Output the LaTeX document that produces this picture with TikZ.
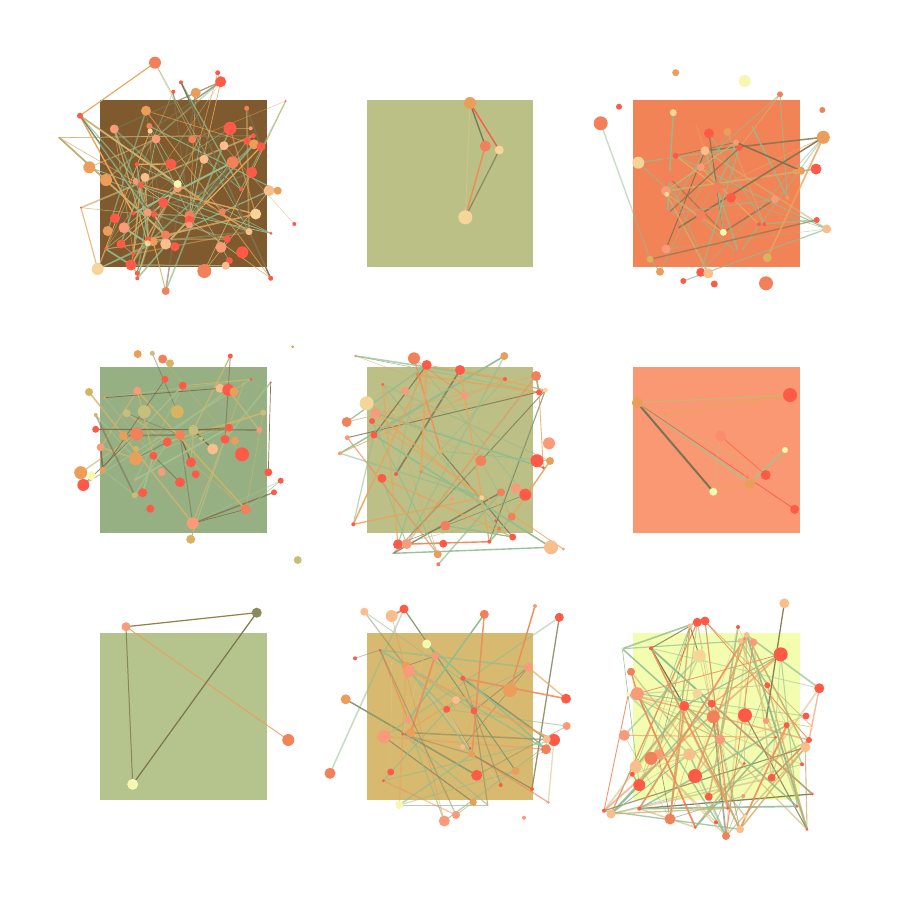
\documentclass[tikz,border=0pt]{standalone}
\pgfdeclarelayer{bg}
\pgfdeclarelayer{edges}
\pgfsetlayers{bg,edges,main}
% node colours
\definecolor{cR}{HTML}{FF5A48}
\definecolor{cO}{HTML}{F2805A}
\definecolor{cS}{HTML}{F99A78}
\definecolor{cA}{HTML}{EB9E5A}
\definecolor{cL}{HTML}{F8BE8C}
\definecolor{cC}{HTML}{F5D598}
\definecolor{cY}{HTML}{F5F8B0}
\definecolor{cG}{HTML}{D8B460}
\definecolor{cT}{HTML}{C8BE7C}
\definecolor{cK}{HTML}{8A8A60}
% base edge colours
\definecolor{xGr}{HTML}{92BC8E}
\definecolor{xTn}{HTML}{CDB473}
\definecolor{xAm}{HTML}{E8A55E}
\definecolor{xDk}{HTML}{7C7450}
\definecolor{xOr}{HTML}{EE8C5A}
\definecolor{xLg}{HTML}{A8C08E}
\definecolor{xLt}{HTML}{D9C48A}
\definecolor{xBr}{HTML}{7E6A45}
\definecolor{xGd}{HTML}{D8B460}
\definecolor{xOl}{HTML}{8A8A60}
\newcommand\mkpal[9]{%
  \colorlet{#1e1}{#2}\colorlet{#1e2}{#3}\colorlet{#1e3}{#4}%
  \colorlet{#1e4}{#5}\colorlet{#1e5}{#6}\colorlet{#1e6}{#7}%
  \colorlet{#1e7}{#8}\colorlet{#1e8}{#9}}
\mkpal{pA}{xGr}{xGr}{xGr}{xTn}{xTn}{xAm}{xAm}{xDk}
\mkpal{pC}{xGr}{xGr}{xGr}{xGr}{xGr}{xDk}{xAm}{xTn}
\mkpal{pD}{xBr}{xBr}{xBr}{xTn}{xTn}{xLg}{xLg}{xGd}
\mkpal{pE}{xGr}{xGr}{xGr}{xDk}{xDk}{xAm}{xAm}{xOr}
\mkpal{pH}{xGr}{xGr}{xGr}{xOl}{xOl}{xAm}{xOr}{xLt}
\mkpal{pI}{xGr}{xGr}{xGr}{xTn}{xTn}{xLt}{xOr}{xDk}
% panel colours
\definecolor{b1}{HTML}{7F5A2E}
\definecolor{b2}{HTML}{BBC186}
\definecolor{b3}{HTML}{F28356}
\definecolor{b4}{HTML}{96B083}
\definecolor{b5}{HTML}{BCBF86}
\definecolor{b6}{HTML}{FA9873}
\definecolor{b7}{HTML}{B5C38C}
\definecolor{b8}{HTML}{D7B970}
\definecolor{b9}{HTML}{F3FDB0}
\tikzset{
  dot/.style={circle, inner sep=0pt, outer sep=0pt, draw=none, minimum size=#1*2pt},
  panel/.style={fill=#1, draw=none},
  link/.style={line width=#1pt, line cap=round}
}
\newcommand\mkpanel[4]{%
  \foreach \x/\y/\rr/\cl [count=\i] in {#2} {%
    \node[dot=\rr, fill=\cl] (#1n\i) at (\x,\y) {};
    \xdef\nN{\i}}
  \begin{pgfonlayer}{edges}
  \pgfmathsetseed{#3}
  \foreach \k in {1,...,#4} {%
    \pgfmathrandominteger{\ea}{1}{\nN}
    \pgfmathrandominteger{\eb}{1}{\nN}
    \pgfmathrandominteger{\ec}{1}{8}
    \pgfmathrandominteger{\ew}{5}{17}
    \pgfmathrandominteger{\eo}{5}{10}
    \pgfmathsetmacro\eop{\eo/10}
    \pgfmathsetmacro\ewd{\ew/10}
    \draw[draw=#1e\ec, line width=\ewd pt, draw opacity=\eop, line cap=round]
      (#1n\ea.center) -- (#1n\eb.center);
  }
  \end{pgfonlayer}
}
\begin{document}
\begin{tikzpicture}[x=1pt, y=-1pt]
\useasboundingbox (0,0) rectangle (900,900);
\begin{pgfonlayer}{bg}
\fill[white] (0,0) rectangle (900,900);
\path[panel=b1] (100,100) rectangle (266.7,266.7);
\path[panel=b2] (366.7,100) rectangle (533.3,266.7);
\path[panel=b3] (633.3,100) rectangle (800,266.7);
\path[panel=b4] (100,366.7) rectangle (266.7,533.3);
\path[panel=b5] (366.7,366.7) rectangle (533.3,533.3);
\path[panel=b6] (633.3,366.7) rectangle (800,533.3);
\path[panel=b7] (100,633.3) rectangle (266.7,800);
\path[panel=b8] (366.7,633.3) rectangle (533.3,800);
\path[panel=b9] (633.3,633.3) rectangle (800,800);
\end{pgfonlayer}

% ---------- panel 1 ----------
\mkpanel{pA}{155/62.7/6/cO, 217.7/72.7/2.5/cR, 220.7/81.7/5.5/cR, 181/82.3/2/cR, 195.7/92.7/5/cA, 173.3/91.7/2/cR, 80/115.7/3/cR, 146/110.7/5/cA, 246.7/108.3/2.5/cO, 285.7/101/1/cR, 114.3/129/4.5/cS, 149.3/126/3/cO, 150/131/2.5/cC, 230/128.3/6.5/cR, 250.7/128.3/2/cS, 59.3/137.7/1/cA, 156/139/4.5/cS, 192.3/139.3/4/cO, 200.7/135.7/1.5/cR, 253.3/135.7/2.5/cR, 247.3/141/4/cR, 254/144.3/5/cA, 261/146.7/4.5/cR, 224/145.7/4.5/cL, 89.3/167.3/6/cA, 204/159.3/4.5/cL, 232.7/162.3/6/cO, 171/164/5.5/cR, 251.7/172.3/5.5/cR, 136.7/164.3/2/cR, 106/180/6/cA, 145/177.3/4.5/cL, 135.7/181/3/cS, 140.7/185/3/cR, 177.7/188.3/4/cS, 177.7/184/4/cY, 269/190.7/5.5/cL, 277.7/190.7/4/cA, 241/189.3/2/cR, 163.3/202.7/5/cR, 222.3/211.7/3.5/cO, 147.7/212.3/4/cS, 154.3/214.3/3/cR, 133.3/213.3/2/cR, 189.3/215.7/5/cO, 189.3/220/4.5/cR, 189.3/225/3.5/cS, 255.7/214/5.5/cC, 115/218.3/5/cR, 124/227.7/5.5/cS, 107.7/231/5/cA, 294.3/224/2/cR, 271/233.3/1.5/cR, 249/231.7/3.5/cL, 165.7/235/4.5/cO, 153.3/241.7/4.5/cA, 148.3/239.3/3/cR, 147.7/243.3/3/cC, 121/244/4.5/cR, 165.7/244/5.5/cL, 175/246.7/4.5/cR, 227.3/239/3.5/cR, 221/247.3/5.5/cS, 242.3/252.3/6/cR, 229.3/260.7/3.5/cR, 225.7/265.7/4/cL, 133.3/254/2/cR, 105.7/249/1.5/cR, 81/207.7/1/cR, 97.7/269/6/cC, 131/265/5.5/cR, 137.3/273.3/2.5/cR, 137.3/278.3/2/cR, 204.3/271/7/cO, 270.7/278.3/2.5/cR, 165.7/291/4/cO}{11}{115}

% ---------- panel 2 ----------
\node[dot=6, fill=cA] (q1) at (470,103) {};
\node[dot=5.5, fill=cO] (q2) at (485.3,146) {};
\node[dot=4.5, fill=cC] (q3) at (499.3,150) {};
\node[dot=7, fill=cC] (q4) at (465.3,217.3) {};
\begin{pgfonlayer}{edges}
\draw[link=1.3, draw=xDk] (q1.center) -- (q2.center);
\draw[link=1.4, draw=cR] (q1.center) -- (q3.center);
\draw[link=1, draw=xLt, draw opacity=0.7] (q1.center) -- (q4.center);
\draw[link=1.5, draw=xOr] (q2.center) -- (q4.center);
\draw[link=1.2, draw=cK] (q3.center) -- (q4.center);
\end{pgfonlayer}

% ---------- panel 3 ----------
\mkpanel{pC}{675.7/72.7/3.5/cA, 780/94.3/3/cO, 619/106.7/3/cR, 600.7/123.3/7/cO, 673.3/112.7/3.5/cC, 823.3/137.3/6.5/cA, 709/133.3/5/cR, 727.7/132/4/cA, 736/142.3/3/cS, 739.3/148/3/cR, 751/124/2/cO, 695/121.7/2.5/cO, 705/150.7/4.5/cL, 638.3/162.7/6/cC, 816/169/5.5/cR, 801/170.7/4/cA, 795.7/171.7/3/cA, 665/161/3/cO, 675.7/155.7/3/cR, 668.3/176.7/6/cO, 700.7/167.3/4/cS, 717.7/187.7/5.5/cO, 731/197.7/5/cR, 666/191/5/cS, 666.7/194.3/2.5/cC, 787.3/197.7/2/cA, 775/199.3/4/cS, 667.3/214/4/cO, 700.7/215/5/cO, 816.7/220/3/cR, 826.7/229/4.5/cL, 759/224.3/2/cR, 764.3/224.3/2/cR, 723.3/232.3/3.5/cY, 677.7/228.3/1.5/cO, 666/249/4.5/cS, 739/254.3/5/cO, 767.3/257.7/4.5/cG, 650/259.3/3.5/cG, 660/271.7/4/cA, 700.7/272.3/4.5/cR, 708.3/273.3/5/cL, 683.3/281/3/cR, 766/283.3/7/cO}{23}{50}
\node[dot=6, fill=cY] (pCx1) at (744.7,81) {};
\node[dot=3, fill=cO] (pCx2) at (822.3,110) {};
\node[dot=3.5, fill=cR] (pCx3) at (714.3,284) {};

% ---------- panel 4 ----------
\mkpanel{pD}{137.7/354/4/cA, 152.3/353.3/2.5/cT, 162.7/359/4.5/cO, 170/363.3/4/cG, 230.3/356/2.5/cR, 292.7/346.7/1.5/cA, 165/379.3/3.5/cR, 182.7/385.7/4/cR, 220/388.3/4.5/cL, 228.3/390/6/cR, 234/391.7/4.5/cA, 251/379.3/1.5/cR, 270.7/382.3/1/cR, 243.7/383.3/1/cG, 89/392/4/cG, 104.3/397.7/1.5/cA, 137.3/390.7/4/cS, 95.7/415/2/cG, 126.7/413.3/4/cT, 144.3/411.7/6.5/cT, 177.3/411.7/6.5/cG, 263.3/412.7/3/cT, 95.7/429.3/3.5/cR, 123.3/435.7/4.5/cA, 136.7/434/6.5/cO, 193.3/430/5/cT, 180/435/5/cO, 201/438.7/2/cT, 229/427.7/4/cR, 259.3/430/3/cS, 167.3/442/4.5/cR, 225/439.3/4.5/cR, 235/440.7/4/cA, 100.7/447.3/4/cS, 136/448.7/3/cG, 212.7/449/5.5/cL, 242/454.3/7/cR, 135.7/458.7/6.5/cA, 153.3/455.7/4/cR, 191/462.3/5/cR, 102.7/470/3/cA, 80.7/472.7/6.5/cA, 91.3/475.7/4.5/cY, 83.3/485/6/cR, 161.7/472/4/cS, 195.7/474.3/4/cR, 268.3/472.3/4/cR, 280.7/480.7/3/cR, 135.3/479.7/1.5/cS, 180/482.3/5/cR, 274/492.3/3/cR, 142.7/492.7/4.5/cR, 134.7/495.3/3/cT, 150.3/508.7/4/cR, 245.7/509.3/5/cO, 192.7/523.3/6/cS, 190.7/539.3/4.5/cG}{37}{55}
\node[dot=4, fill=cT] (pDx1) at (297.7,560) {};

% ---------- panel 5 ----------
\mkpanel{pE}{355.7/356/1.5/cS, 414/358.3/6/cO, 426.7/365/5/cR, 417.7/375/2/cO, 460/370/5/cR, 504.3/356/4/cA, 536/376/5/cO, 505/379/2/cR, 539/392.3/3/cR, 545.3/390.3/2.5/cC, 382.7/384.3/1.5/cR, 405.3/391/4/cS, 464.3/396/3.5/cS, 366.7/403.3/7/cC, 375.7/413.3/5/cS, 346.7/422/5/cO, 372/421/3/cR, 347.3/437.7/2.5/cS, 374/435/3.5/cR, 340/453.3/2/cS, 549/443.3/6/cS, 537/460.7/6.5/cR, 550/461/4/cA, 440.7/451.3/2.5/cG, 481/460.7/5.5/cO, 543.3/467.7/1.5/cR, 382/478.3/4.5/cR, 396/474/2/cR, 421/471.7/1.5/cO, 481.7/497.7/2.5/cC, 501/492.3/4/cO, 516/488.3/5/cS, 525.3/494.7/6/cR, 451.7/499/2/cS, 511.7/516.7/4/cO, 353.3/524.3/2/cR, 445.3/525.7/5/cO, 495.7/520.7/1.5/cR, 499/528.7/2/cO, 512.7/537/3.5/cR, 398/544.3/5/cR, 406.7/544/5/cS, 443.3/543.7/4/cR, 489.3/541.7/2/cR, 551/547.3/7/cL, 563.3/549/1.5/cS, 437.7/554.3/4/cA, 438.3/564.3/2/cO, 393.3/553.3/1/cS}{5}{65}

% ---------- panel 6 ----------
\node[dot=5.5, fill=cA] (r1) at (637.3,402.7) {};
\node[dot=7, fill=cR] (r2) at (790,395) {};
\node[dot=1.5, fill=cA] (r3) at (665,414) {};
\node[dot=5.5, fill=cS!80!cR] (r4) at (720.7,436) {};
\node[dot=3, fill=cY] (r5) at (785,450) {};
\node[dot=5, fill=cR] (r6) at (765.7,475) {};
\node[dot=5.5, fill=cA] (r7) at (750,483.3) {};
\node[dot=4, fill=cY] (r8) at (713.3,491.7) {};
\node[dot=4.5, fill=cR] (r9) at (794.7,509.3) {};
\begin{pgfonlayer}{edges}
\draw[link=1.2, draw=xTn] (r1.center) -- (r2.center);
\draw[link=1.5, draw=xAm] (r3.center) -- (r2.center);
\draw[link=2, draw=xDk] (r1.center) -- (r8.center);
\draw[link=1.5, draw=xLg] (r1.center) -- (r7.center);
\draw[link=0.8, draw=cR!80!cO] (r1.center) -- (r9.center);
\draw[link=0.8, draw=xTn, draw opacity=0.7] (r1.center) -- (r6.center);
\draw[link=0.8, draw=cR!70!cO, draw opacity=0.8] (r4.center) -- (r6.center);
\draw[link=0.8, draw=xAm, draw opacity=0.8] (r4.center) -- (r7.center);
\draw[link=0.8, draw=xTn, draw opacity=0.7] (r4.center) -- (r8.center);
\draw[link=1.2, draw=xAm] (r8.center) -- (r7.center);
\draw[link=1.5, draw=xLg] (r7.center) -- (r5.center);
\end{pgfonlayer}

% ---------- panel 7 ----------
\node[dot=4.5, fill=cS] (s1) at (126,626.7) {};
\node[dot=5, fill=cK] (s2) at (256.7,612.7) {};
\node[dot=6, fill=b3] (s3) at (288.3,740) {};
\node[dot=5.5, fill=cY] (s4) at (132.7,784.3) {};
\begin{pgfonlayer}{edges}
\draw[link=1.2, draw=cG!70!black] (s1.center) -- (s2.center);
\draw[link=0.8, draw=cA!80!cS] (s1.center) -- (s3.center);
\draw[link=1, draw=cT!70!black] (s1.center) -- (s4.center);
\draw[link=1.2, draw=xDk] (s2.center) -- (s4.center);
\end{pgfonlayer}

% ---------- panel 8 ----------
\mkpanel{pH}{364.3/611.7/4/cL, 391.7/616/6/cL, 404/609/4.5/cR, 484.3/614.3/4.5/cO, 535/606/2/cS, 559.3/617.3/4.5/cR, 426.7/644/4.5/cY, 380/650/1.5/cR, 355/658.3/2/cR, 391.7/663.3/1/cL, 435/656/4/cS, 406/666/4.5/cA, 409/671/6/cS, 462.7/678.3/2.5/cR, 528.3/667.3/4.5/cS, 510/690/7/cA, 566/698.7/5/cR, 345.7/699.3/5/cA, 456/700/4/cL, 446.7/709.3/3.5/cR, 474/710.7/3.5/cR, 408.3/720/3.5/cS, 566.7/726/4/cS, 402.7/734/1.5/cR, 410.7/732.7/4.5/cA, 384/736.7/6.5/cS, 554/740/6/cR, 546.7/739.3/4/cL, 546/749.3/5/cO, 462.7/746.7/2.5/cL, 470/748.3/1.5/cR, 472/754.3/3.5/cA, 330/773.3/5.5/cO, 390.7/772/3.5/cR, 476.7/775.3/5.5/cR, 515.7/771/4/cA, 383.3/780.7/1.5/cR, 500.7/785/2/cR, 532/789/2/cR, 399.3/805/4/cY, 473.3/802.3/3.5/cA, 487.7/805/1/cS, 548.3/802.3/1.5/cS, 456/815/4/cS, 444.3/821/5.5/cS}{41}{65}
\node[dot=2, fill=cS] (pHx1) at (524,817.7) {};

% ---------- panel 9 ----------
\mkpanel{pI}{784.3/603.3/5/cL, 697.3/622.3/4.5/cR, 705/621/4.5/cR, 690/626/2.5/cL, 738/627/2/cR, 746.7/635/3/cL, 740.7/641/3/cL, 753.3/642.3/4/cS, 780.7/654.3/7/cR, 699.3/656/6.5/cC, 651/648.3/2/cR, 622.3/648.7/1/cY, 631/671.7/4/cO, 819.3/688.3/5/cR, 767.3/685.3/3/cR, 637.3/693.7/6.5/cS, 628.3/694.3/2/cY, 697.3/693.3/5/cC, 684.3/706/5/cR, 711.7/703.7/4/cR, 745/715.3/7/cR, 713.3/716.7/6.5/cO, 766/721/3/cS, 786.7/725.3/3/cR, 806/716/3.5/cR, 812.7/727.3/1.5/cY, 624.3/735.3/5.5/cS, 720/739.3/5/cS, 775.7/737.3/1.5/cR, 809/740/3/cR, 805.3/747.3/5/cL, 689.3/754.3/6/cL, 658.3/754.3/5/cS, 651/758.3/6.5/cO, 635.7/766.7/6/cL, 744.3/763.3/1.5/cR, 802/764.3/2/cR, 632.3/774.3/2.5/cR, 695/776/7/cR, 771.7/777.7/4/cR, 639.3/785/6/cR, 708.7/796.7/4/cR, 743.3/796/2/cS, 812.3/794/1.5/cR, 797/806.3/1.5/cR, 639.3/808.7/2/cR, 604/810.7/2/cR, 611/814/4.5/cL, 670/819/5.5/cO, 727.7/808.3/1.5/cR, 745.3/816.7/2/cC, 716/822.3/2/cR, 695.3/827.3/1.5/cR, 740/829.3/4/cL, 726/836/4/cO, 807/829.3/1.5/cR}{77}{125}
\end{tikzpicture}
\end{document}
